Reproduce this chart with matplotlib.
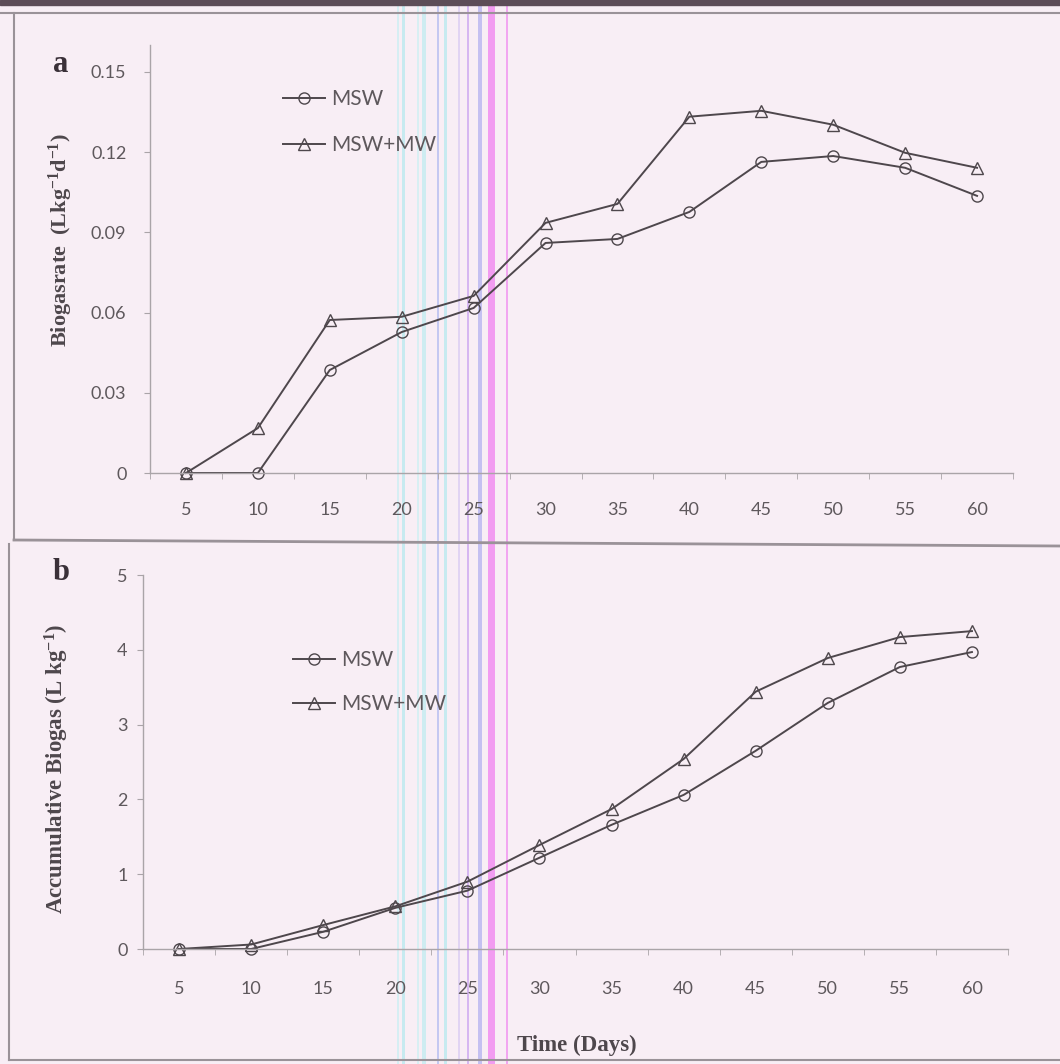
import matplotlib
matplotlib.use("Agg")
from matplotlib import pyplot as plt
from matplotlib.ticker import FixedLocator, FuncFormatter
import numpy as np

# Data
days = [5, 10, 15, 20, 25, 30, 35, 40, 45, 50, 55, 60]
# (a) biogas production rate, L kg-1 d-1
rate_msw = [0, 0, 0.0385, 0.0527, 0.0617, 0.0860, 0.0875, 0.0976, 0.1163, 0.1185, 0.1141, 0.1036]
rate_msw_mw = [0, 0.0168, 0.0572, 0.0584, 0.0662, 0.0935, 0.1006, 0.1332, 0.1354, 0.1302, 0.1197, 0.1141]
# (b) accumulative biogas, L kg-1
acc_msw = [0, 0, 0.23, 0.55, 0.78, 1.22, 1.66, 2.06, 2.65, 3.29, 3.77, 3.97]
acc_msw_mw = [0, 0.06, 0.32, 0.57, 0.90, 1.39, 1.87, 2.54, 3.44, 3.89, 4.17, 4.25]

rate_ticks = [0, 0.03, 0.06, 0.09, 0.12, 0.15]
acc_ticks = [0, 1, 2, 3, 4, 5]

BG = '#f8eef5'
INK = '#4e474c'
AXIS = '#aaa4a8'
TXT = '#5e585c'
SANS = ['Lato', 'DejaVu Sans']
SERIF = ['Liberation Serif', 'DejaVu Serif']

plt.rcParams['mathtext.default'] = 'regular'

fig = plt.figure(figsize=(10.6, 10.64), dpi=100, facecolor=BG)

W, H = 1060.0, 1064.0
def fx(px):
    return px / W
def fy(py):
    return 1 - py / H

# page decoration from the scan
fig.patches.append(plt.Rectangle((0, fy(5)), 1, 5 / H, transform=fig.transFigure,
                                 color='#5d4d58', zorder=0))
fig.add_artist(plt.Line2D([0, 1], [fy(13), fy(13)], color='#9a9298', lw=1.5))
fig.add_artist(plt.Line2D([fx(14), fx(14)], [fy(13), fy(540)], color='#9a9298', lw=1.5))
fig.add_artist(plt.Line2D([fx(14), 1], [fy(540), fy(546)], color='#9a9298', lw=2))
fig.add_artist(plt.Line2D([fx(9), fx(9)], [fy(544), fy(1060)], color='#9a9298', lw=1.5))
fig.add_artist(plt.Line2D([fx(9), 1], [fy(1060), fy(1060)], color='#9a9298', lw=1.5))

# coloured scanner streaks (drawn under the plots)
scan_lines = [(398, '#c4eef2', 2), (403, '#aee8ee', 3), (418, '#c8f0f2', 2), (424, '#b8ecf0', 4),
              (438, '#a9b4f0', 2), (445, '#aee8ee', 3), (459, '#d6c6f2', 2), (468, '#c59af0', 2),
              (480, '#a9a8f0', 4), (491, '#f070f0', 7), (507, '#f080f0', 2)]
for x, c, w in scan_lines:
    fig.add_artist(plt.Line2D([fx(x), fx(x)], [0, 1], color=c, lw=w * 0.72, alpha=0.65, zorder=-1))


def style_axes(ax, ypad, xpad):
    ax.set_facecolor('none')
    for s in ['top', 'right']:
        ax.spines[s].set_visible(False)
    for s in ['left', 'bottom']:
        ax.spines[s].set_color(AXIS)
        ax.spines[s].set_linewidth(1.0)
    ax.set_xlim(2.5, 62.5)
    ax.set_xticks(days)
    ax.xaxis.set_minor_locator(FixedLocator(np.arange(2.5, 63, 5)))
    ax.tick_params(axis='x', which='major', length=0, pad=xpad, labelsize=13, labelcolor=TXT)
    ax.tick_params(axis='x', which='minor', length=4, color=AXIS, direction='out')
    ax.tick_params(axis='y', length=4, color=AXIS, pad=ypad, labelsize=13, labelcolor=TXT)
    for lab in ax.get_xticklabels() + ax.get_yticklabels():
        lab.set_family(SANS)


def draw(ax, y1, y2):
    ax.plot(days, y1, color=INK, lw=1.4, marker='o', ms=8, mfc='none', mec=INK, mew=1.0,
            label='MSW', clip_on=False)
    ax.plot(days, y2, color=INK, lw=1.4, marker='^', ms=9, mfc='none', mec=INK, mew=1.0,
            label='MSW+MW', clip_on=False)


# panel a
ax1 = fig.add_axes([fx(150), fy(473), fx(1013 - 150), (473 - 45) / H])
draw(ax1, rate_msw, rate_msw_mw)
ax1.set_ylim(0, 0.16)
ax1.set_yticks(rate_ticks)
ax1.yaxis.set_major_formatter(FuncFormatter(lambda v, p: '0' if v == 0 else '%.2f' % v))
style_axes(ax1, 13, 21)
leg1 = ax1.legend(loc='upper left', bbox_to_anchor=(fx(275), fy(81)), bbox_transform=fig.transFigure,
                  frameon=False, borderaxespad=0, handlelength=2, handletextpad=0.3,
                  labelspacing=1.25, prop={'family': SANS, 'size': 15})
for t in leg1.get_texts():
    t.set_color(TXT)

# panel b
ax2 = fig.add_axes([fx(143), fy(949), fx(1008 - 143), (949 - 575) / H])
draw(ax2, acc_msw, acc_msw_mw)
ax2.set_ylim(0, 5)
ax2.set_yticks(acc_ticks)
style_axes(ax2, 7, 23)
leg2 = ax2.legend(loc='upper left', bbox_to_anchor=(fx(285), fy(642)), bbox_transform=fig.transFigure,
                  frameon=False, borderaxespad=0, handlelength=2, handletextpad=0.3,
                  labelspacing=1.15, prop={'family': SANS, 'size': 15})
for t in leg2.get_texts():
    t.set_color(TXT)

# labels
fig.text(fx(61), fy(240), r'Biogasrate  (Lkg$^{-1}$d$^{-1}$)', rotation=90, ha='center', va='center',
         family=SERIF, weight='bold', size=16, color=INK)
fig.text(fx(57), fy(769), r'Accumulative Biogas (L kg$^{-1}$)', rotation=90, ha='center', va='center',
         family=SERIF, weight='bold', size=16.5, color=INK)
fig.text(fx(577), fy(1045), 'Time (Days)', ha='center', va='center',
         family=SERIF, weight='bold', size=16.5, color=INK)
fig.text(fx(61), fy(64), 'a', ha='center', va='center', family=SERIF, weight='bold', size=22, color='#3a3038')
fig.text(fx(61), fy(572), 'b', ha='center', va='center', family=SERIF, weight='bold', size=22, color='#3a3038')

fig.savefig('out.png', dpi=100, facecolor=BG)
